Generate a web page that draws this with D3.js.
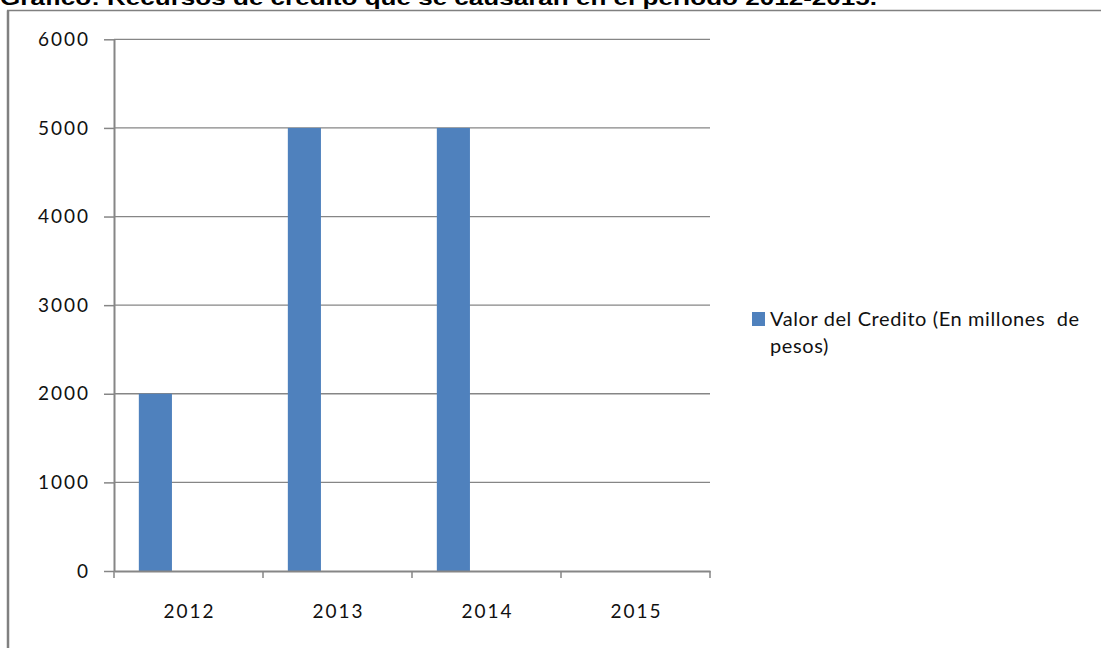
<!DOCTYPE html>
<html>
<head>
<meta charset="utf-8">
<script src="https://cdn.jsdelivr.net/npm/d3@7"></script>
<style>
  html, body { margin: 0; padding: 0; background: #fff; }
  svg { display: block; }
  .tick text { font-family: Lato, sans-serif; font-size: 19px; fill: #111; letter-spacing: 2px; }
  .legend-text { font-family: Lato, sans-serif; font-size: 20px; fill: #111; letter-spacing: 0.6px; white-space: pre; }
</style>
</head>
<body>
<div id="chart"></div>
<script>
const titleText = 'Gráfico: Recursos de crédito que se causarán en el periodo 2012-2015.';
const years = ['2012', '2013', '2014', '2015'];
const creditValues = [2000, 5000, 5000, 0];
const yTicks = [0, 1000, 2000, 3000, 4000, 5000, 6000];
const legendLines = ['Valor del Credito (En millones  de', 'pesos)'];

const width = 1101;
const height = 648;
const plot = { left: 114, right: 710, top: 39.3, bottom: 571 };

const barColor = '#4F81BD';
const gridColor = '#868686';
const frameColor = '#808080';

const svg = d3.select('#chart')
  .append('svg')
  .attr('width', width)
  .attr('height', height);

svg.append('rect')
  .attr('width', width)
  .attr('height', height)
  .attr('fill', '#fff');

// title of the document, cut off by the top edge
svg.append('text')
  .attr('x', 0)
  .attr('y', 5)
  .attr('textLength', 877)
  .attr('lengthAdjust', 'spacingAndGlyphs')
  .style('font-family', '"Liberation Sans", Arial, sans-serif')
  .style('font-weight', 'bold')
  .style('font-size', '21px')
  .attr('fill', '#000')
  .text(titleText);

// chart frame (left and top border)
svg.append('line')
  .attr('x1', 8).attr('x2', 8)
  .attr('y1', 10.5).attr('y2', height)
  .attr('stroke', frameColor)
  .attr('stroke-width', 2.5);

svg.append('line')
  .attr('x1', 7).attr('x2', width)
  .attr('y1', 10.5).attr('y2', 10.5)
  .attr('stroke', frameColor)
  .attr('stroke-width', 1.5);

const xScale = d3.scaleBand()
  .domain(years)
  .range([plot.left, plot.right]);

// each cluster has room for three series, only the first one is filled
const slotScale = d3.scaleBand()
  .domain(d3.range(3))
  .range([0, xScale.bandwidth()])
  .paddingOuter(0.75);

const yScale = d3.scaleLinear()
  .domain([0, d3.max(yTicks)])
  .range([plot.bottom, plot.top]);

// gridlines
svg.append('g')
  .attr('class', 'grid')
  .selectAll('line')
  .data(yTicks.filter((d) => d > 0))
  .enter()
  .append('line')
  .attr('x1', plot.left)
  .attr('x2', plot.right)
  .attr('y1', (d) => yScale(d))
  .attr('y2', (d) => yScale(d))
  .attr('stroke', gridColor)
  .attr('stroke-width', 1.3);

// bars
svg.append('g')
  .selectAll('rect')
  .data(years.map((year, i) => ({ year, value: creditValues[i] })))
  .enter()
  .append('rect')
  .attr('x', (d) => xScale(d.year) + slotScale(0))
  .attr('width', slotScale.bandwidth())
  .attr('y', (d) => yScale(d.value))
  .attr('height', (d) => yScale(0) - yScale(d.value))
  .attr('fill', barColor);

// y axis
const yAxis = d3.axisLeft(yScale)
  .tickValues(yTicks)
  .tickFormat(d3.format('d'))
  .tickSizeInner(10)
  .tickSizeOuter(0)
  .tickPadding(14);

const yAxisG = svg.append('g')
  .attr('transform', `translate(${plot.left},0)`)
  .call(yAxis);

yAxisG.select('.domain')
  .attr('stroke', gridColor)
  .attr('stroke-width', 2);
yAxisG.selectAll('.tick line')
  .attr('stroke', gridColor)
  .attr('stroke-width', 1.5);

// x axis: labels centred on categories, ticks between them
const xAxis = d3.axisBottom(xScale)
  .tickSize(0)
  .tickSizeOuter(0);

const xAxisG = svg.append('g')
  .attr('transform', `translate(0,${plot.bottom})`)
  .call(xAxis);

xAxisG.select('.domain')
  .attr('stroke', gridColor)
  .attr('stroke-width', 2);
xAxisG.selectAll('.tick text')
  .attr('y', 47)
  .attr('dy', 0)
  .attr('dx', 1);

const boundaries = years.map((d) => xScale(d)).concat(xScale.range()[1]);
xAxisG.selectAll('.sep')
  .data(boundaries)
  .enter()
  .append('line')
  .attr('class', 'sep')
  .attr('x1', (d) => d)
  .attr('x2', (d) => d)
  .attr('y1', 0)
  .attr('y2', 7)
  .attr('stroke', gridColor)
  .attr('stroke-width', 1.5);

// legend
const legend = svg.append('g')
  .attr('transform', 'translate(752,312)');

legend.append('rect')
  .attr('width', 13)
  .attr('height', 14)
  .attr('fill', barColor);

legend.selectAll('.legend-text')
  .data(legendLines)
  .enter()
  .append('text')
  .attr('class', 'legend-text')
  .attr('x', 18)
  .attr('y', (_, i) => 14 + i * 27)
  .text((d) => d);
</script>
</body>
</html>
